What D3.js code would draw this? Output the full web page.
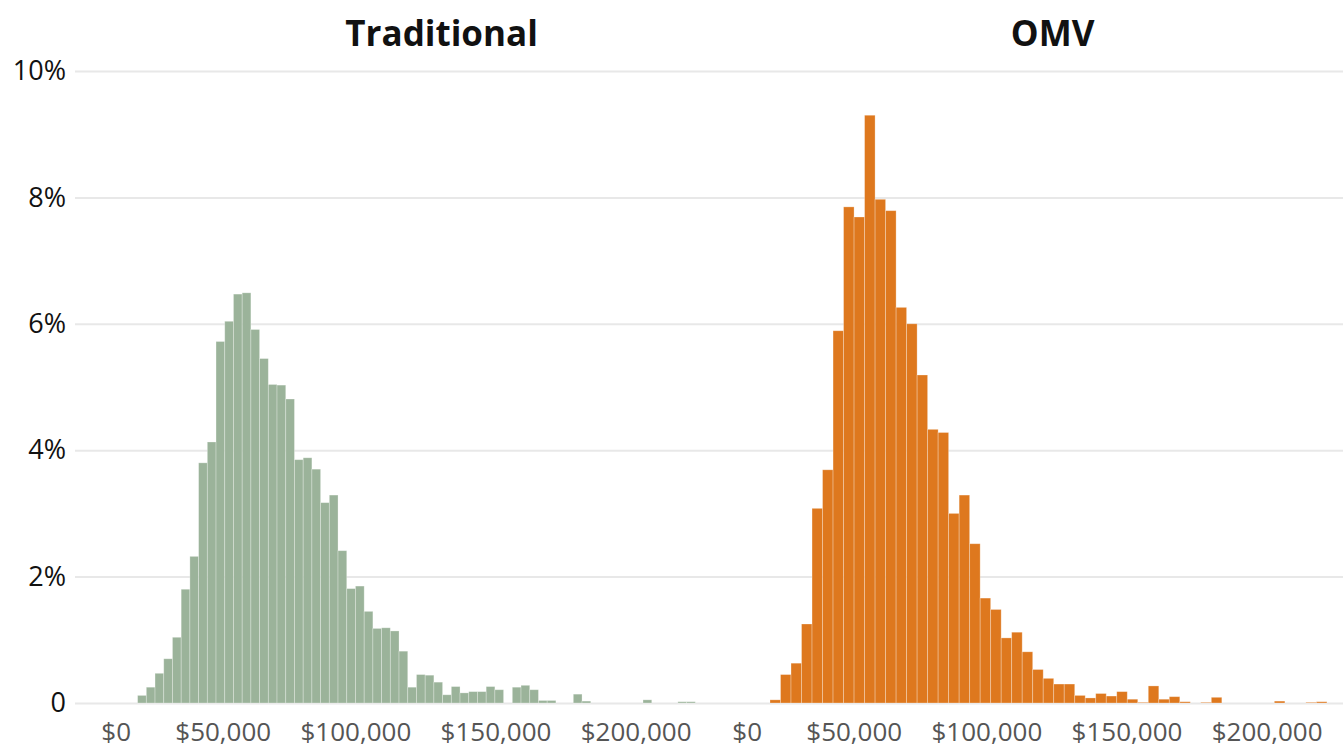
<!DOCTYPE html>
<html>
<head>
<meta charset="utf-8">
<title>Traditional vs OMV</title>
<style>
  body { margin: 0; background: #fff; font-family: "Open Sans", sans-serif; }
</style>
<script src="https://d3js.org/d3.v7.min.js"></script>
</head>
<body>
<svg width="1343" height="751"></svg>
<script>
// share of records per bin, in percent
var tradPct = [0.12, 0.25, 0.47, 0.70, 1.04, 1.80, 2.32, 3.80, 4.13, 5.72,
               6.04, 6.47, 6.49, 5.91, 5.45, 5.04, 5.03, 4.81, 3.85, 3.88,
               3.70, 3.17, 3.29, 2.41, 1.81, 1.85, 1.45, 1.18, 1.19, 1.14,
               0.82, 0.25, 0.45, 0.44, 0.33, 0.13, 0.26, 0.16, 0.18, 0.18,
               0.26, 0.21, 0, 0.25, 0.28, 0.21, 0.04, 0.04, 0, 0,
               0.14, 0.03, 0, 0, 0, 0, 0, 0, 0.05, 0,
               0, 0, 0.02, 0.02];
var omvPct = [0.05, 0.45, 0.63, 1.25, 3.08, 3.69, 5.89, 7.85, 7.69, 9.30,
              7.97, 7.79, 6.26, 6.00, 5.19, 4.33, 4.28, 3.00, 3.29, 2.52,
              1.66, 1.48, 1.03, 1.12, 0.81, 0.53, 0.39, 0.30, 0.30, 0.12,
              0.08, 0.15, 0.11, 0.18, 0.06, 0.01, 0.27, 0.06, 0.10, 0.02,
              0, 0.01, 0.09, 0, 0, 0, 0, 0, 0.03, 0,
              0, 0.01, 0.02];
var tradBinStart = 2500, tradBinWidth = 3110;
var omvBinStart = 3000, omvBinWidth = 3750;

var panelTitles = ["Traditional", "OMV"];
var xTicks = [0, 50000, 100000, 150000, 200000];
var yTicks = [0, 2, 4, 6, 8, 10];

var svg = d3.select("svg");
var plotTop = 71, plotBottom = 703;

var y = d3.scaleLinear().domain([0, 10]).range([plotBottom, plotTop]);
var x = d3.scaleLinear().domain([0, 200000]).range([0, 560.4]);

// gridlines + y labels
var yAxis = svg.append("g")
    .attr("transform", "translate(75,0)")
    .call(d3.axisLeft(y).tickValues(yTicks).tickSize(-1268)
        .tickFormat(function(d) { return d === 0 ? "0" : d + "%"; }));
yAxis.select(".domain").remove();
yAxis.selectAll("line").attr("stroke", "#e8e8e8").attr("stroke-width", 2);
yAxis.selectAll("text")
    .attr("x", -9)
    .attr("fill", "#111")
    .style("font-size", "27px")
    .style("font-family", "Open Sans, sans-serif");

var panels = [
  { name: panelTitles[0], data: tradPct, start: tradBinStart, width: tradBinWidth, color: "#9bb39a", left: 130.6, titleX: 311 },
  { name: panelTitles[1], data: omvPct, start: omvBinStart, width: omvBinWidth, color: "#de781e", left: 761.6, titleX: 291 }
];

panels.forEach(function(p) {
  var g = svg.append("g").attr("transform", "translate(" + p.left + ",0)");

  g.selectAll("rect")
    .data(p.data)
    .enter().append("rect")
    .attr("x", function(d, i) { return x(p.start + i * p.width); })
    .attr("width", function(d, i) { return x(p.start + (i + 1) * p.width) - x(p.start + i * p.width); })
    .attr("y", function(d) { return y(d); })
    .attr("height", function(d) { return plotBottom - y(d); })
    .attr("fill", p.color)
    .attr("stroke", "rgba(255,255,255,0.35)")
    .attr("stroke-width", 0.8);

  var xAxis = g.append("g")
    .attr("transform", "translate(0," + plotBottom + ")")
    .call(d3.axisBottom(x).tickValues(xTicks).tickSize(0)
        .tickFormat(function(d) { return "$" + d3.format(",")(d); }));
  xAxis.select(".domain").remove();
  xAxis.selectAll("text")
    .attr("y", 20)
    .attr("text-anchor", "end")
    .attr("fill", "#555")
    .style("font-size", "26px")
    .style("font-family", "Open Sans, sans-serif");

  g.append("text")
    .attr("x", p.titleX)
    .attr("y", 46)
    .attr("text-anchor", "middle")
    .style("font-size", "35px")
    .style("font-weight", "bold")
    .style("font-family", "Open Sans, sans-serif")
    .attr("fill", "#111")
    .text(p.name);
});
</script>
</body>
</html>
